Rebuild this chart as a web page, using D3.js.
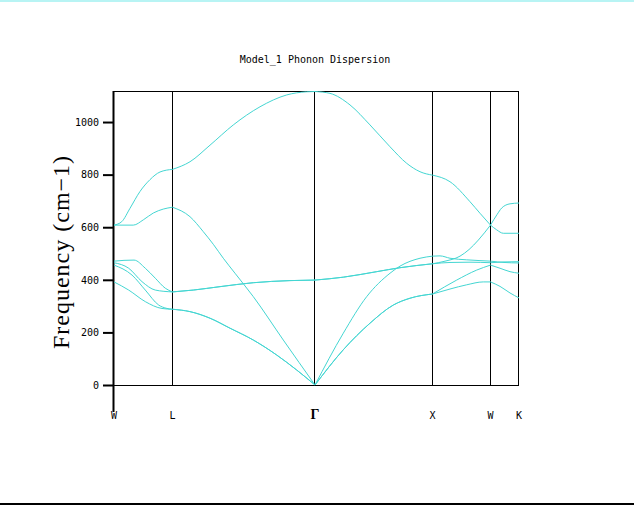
<!DOCTYPE html>
<meta charset="utf-8">
<html>
<head>
<style>
  body { margin: 0; background: #fff; }
  svg { display: block; }
  .tick text { font-family: "DejaVu Sans Mono", monospace; font-size: 10px; }
</style>
</head>
<body>
<script src="https://d3js.org/d3.v7.min.js"></script>
<script>

// high symmetry points along the path (k in path units)
var kLabels = ["W", "L", "\u0393", "X", "W", "K"];
var kNodes  = [0, 0.585, 2.01, 3.185, 3.765, 4.05];
var yTicks  = [0, 200, 400, 600, 800, 1000];

// six phonon branches, [k, frequency cm-1]
var band1 = [[0,608],[0.077,621],[0.16,672],[0.26,736],[0.36,781],[0.46,810],[0.585,820],
  [0.76,849],[0.96,912],[1.193,989],[1.46,1058],[1.727,1103],[1.927,1115],[2.01,1116],
  [2.16,1109],[2.36,1065],[2.56,989],[2.76,906],[2.927,843],[3.06,811],[3.185,798],
  [3.36,773],[3.56,697],[3.66,653],[3.765,608],
  [3.827,590],[3.893,577],[4.05,577]];
var band2 = [[0,608],[0.193,608],[0.293,628],[0.393,654],[0.493,669],[0.585,676],
  [0.76,640],[0.893,583],[0.993,535],[1.093,482],[1.21,425],[1.393,336],[1.693,171],[2.01,0],
  [2.293,197],[2.527,336],[2.76,425],[2.86,452],[3.06,482],[3.185,490],
  [3.26,491],[3.36,482],[3.527,476],[3.66,473],[3.765,471],
  [3.9,466],[4.05,464]];
var band3 = [[0,471],[0.1,474],[0.2,475],[0.313,444],[0.413,406],[0.513,368],[0.585,354],
  [0.793,361],[1.06,374],[1.393,389],[1.76,397],[2.01,399],
  [2.293,410],[2.627,431],[2.86,446],[3.185,461],
  [3.3,470],[3.46,490],[3.55,515],[3.643,551],[3.765,608],
  [3.83,648],[3.877,673],[3.96,689],[4.05,692]];
var band4 = [[0,465],[0.147,444],[0.28,393],[0.413,361],[0.585,354],
  [0.793,361],[1.06,374],[1.393,389],[1.76,397],[2.01,399],
  [2.293,410],[2.627,431],[2.86,446],[3.185,461],
  [3.36,466],[3.56,467],[3.765,465],
  [3.9,468],[4.05,469]];
var band5 = [[0,456],[0.18,418],[0.313,361],[0.447,304],[0.52,292],[0.585,288],
  [0.76,279],[0.96,254],[1.16,216],[1.393,171],[1.627,114],[1.827,57],[2.01,0],
  [2.293,134],[2.56,235],[2.793,304],[2.96,330],[3.185,346],
  [3.427,399],[3.627,437],[3.765,456],
  [3.86,444],[3.96,431],[4.05,425]];
var band6 = [[0,392],[0.147,361],[0.313,317],[0.48,291],[0.585,288],
  [0.76,279],[0.96,254],[1.16,216],[1.393,171],[1.627,114],[1.827,57],[2.01,0],
  [2.293,134],[2.56,235],[2.793,304],[2.96,330],[3.185,346],
  [3.36,365],[3.527,381],[3.693,392],[3.765,392],
  [3.86,375],[3.96,350],[4.05,331]];
var bands = [band1, band2, band3, band4, band5, band6];

var W = 634, H = 506;
var margin = {left: 114, right: 519, top: 91, bottom: 385};

var svg = d3.select("body").append("svg")
  .attr("width", W)
  .attr("height", H);

var x = d3.scaleLinear().domain([0, 4.05]).range([margin.left, margin.right]);
var y = d3.scaleLinear().domain([0, 1118]).range([margin.bottom, margin.top]);

// cyan strip on top, black rule at bottom
svg.append("rect").attr("x", 0).attr("y", 0).attr("width", W).attr("height", 2)
  .attr("fill", "#b8f4f4");
svg.append("line").attr("x1", 0).attr("x2", W).attr("y1", 504).attr("y2", 504)
  .attr("stroke", "#000").attr("stroke-width", 2);

svg.append("text")
  .text("Model_1 Phonon Dispersion")
  .attr("x", 315).attr("y", 63)
  .style("text-anchor", "middle")
  .style("font-family", "DejaVu Sans Mono, monospace")
  .style("font-size", "10px");

// frame
svg.append("line").attr("x1", margin.left).attr("x2", margin.right)
  .attr("y1", y(1118) + 0.5).attr("y2", y(1118) + 0.5)
  .attr("stroke", "#000");
svg.append("line").attr("x1", margin.left - 11).attr("x2", margin.right)
  .attr("y1", y(0) + 0.5).attr("y2", y(0) + 0.5)
  .attr("stroke", "#000");

// vertical lines at symmetry points
svg.selectAll(".kline")
  .data(kNodes.slice(1))
  .enter().append("line")
  .attr("class", "kline")
  .attr("x1", function(d) { return Math.round(x(d)) - 0.5; })
  .attr("x2", function(d) { return Math.round(x(d)) - 0.5; })
  .attr("y1", y(1118)).attr("y2", y(0))
  .attr("stroke", "#000");

// y axis
var yAxis = d3.axisLeft(y).tickValues(yTicks).tickFormat(d3.format("d"))
  .tickSize(11).tickPadding(4).tickSizeOuter(0);
var gy = svg.append("g")
  .attr("transform", "translate(" + margin.left + ",0)")
  .call(yAxis);
gy.select(".domain").remove();
gy.selectAll(".tick line").attr("stroke-width", 2);

svg.append("line").attr("x1", margin.left - 0.5).attr("x2", margin.left - 0.5)
  .attr("y1", y(1118)).attr("y2", 412)
  .attr("stroke", "#000").attr("stroke-width", 2);

svg.append("text")
  .text("Frequency (cm\u22121)")
  .attr("transform", "translate(69,252) rotate(-90)")
  .style("text-anchor", "middle")
  .style("font-family", "Liberation Serif, serif")
  .style("font-size", "24px")
  .style("letter-spacing", "1px");

// k labels
svg.selectAll(".klab")
  .data(kNodes)
  .enter().append("text")
  .attr("class", "klab")
  .attr("x", function(d) { return x(d); })
  .attr("y", 419)
  .style("text-anchor", "middle")
  .style("font-family", function(d, i) { return kLabels[i] == "\u0393" ? "Liberation Serif, serif" : "DejaVu Sans Mono, monospace"; })
  .style("font-weight", function(d, i) { return kLabels[i] == "\u0393" ? "bold" : "normal"; })
  .style("font-size", function(d, i) { return kLabels[i] == "\u0393" ? "14px" : "10px"; })
  .text(function(d, i) { return kLabels[i]; });

// split each branch at symmetry points so cusps stay sharp
var line = d3.line()
  .x(function(d) { return x(d[0]); })
  .y(function(d) { return y(d[1]); })
  .curve(d3.curveMonotoneX);

bands.forEach(function(b) {
  for (var s = 0; s < kNodes.length - 1; s++) {
    var seg = b.filter(function(p) { return p[0] >= kNodes[s] - 1e-6 && p[0] <= kNodes[s + 1] + 1e-6; });
    svg.append("path")
      .attr("d", line(seg))
      .attr("fill", "none")
      .attr("stroke", "#44d6d2")
      .attr("stroke-width", 1);
  }
});

</script>
</body>
</html>
